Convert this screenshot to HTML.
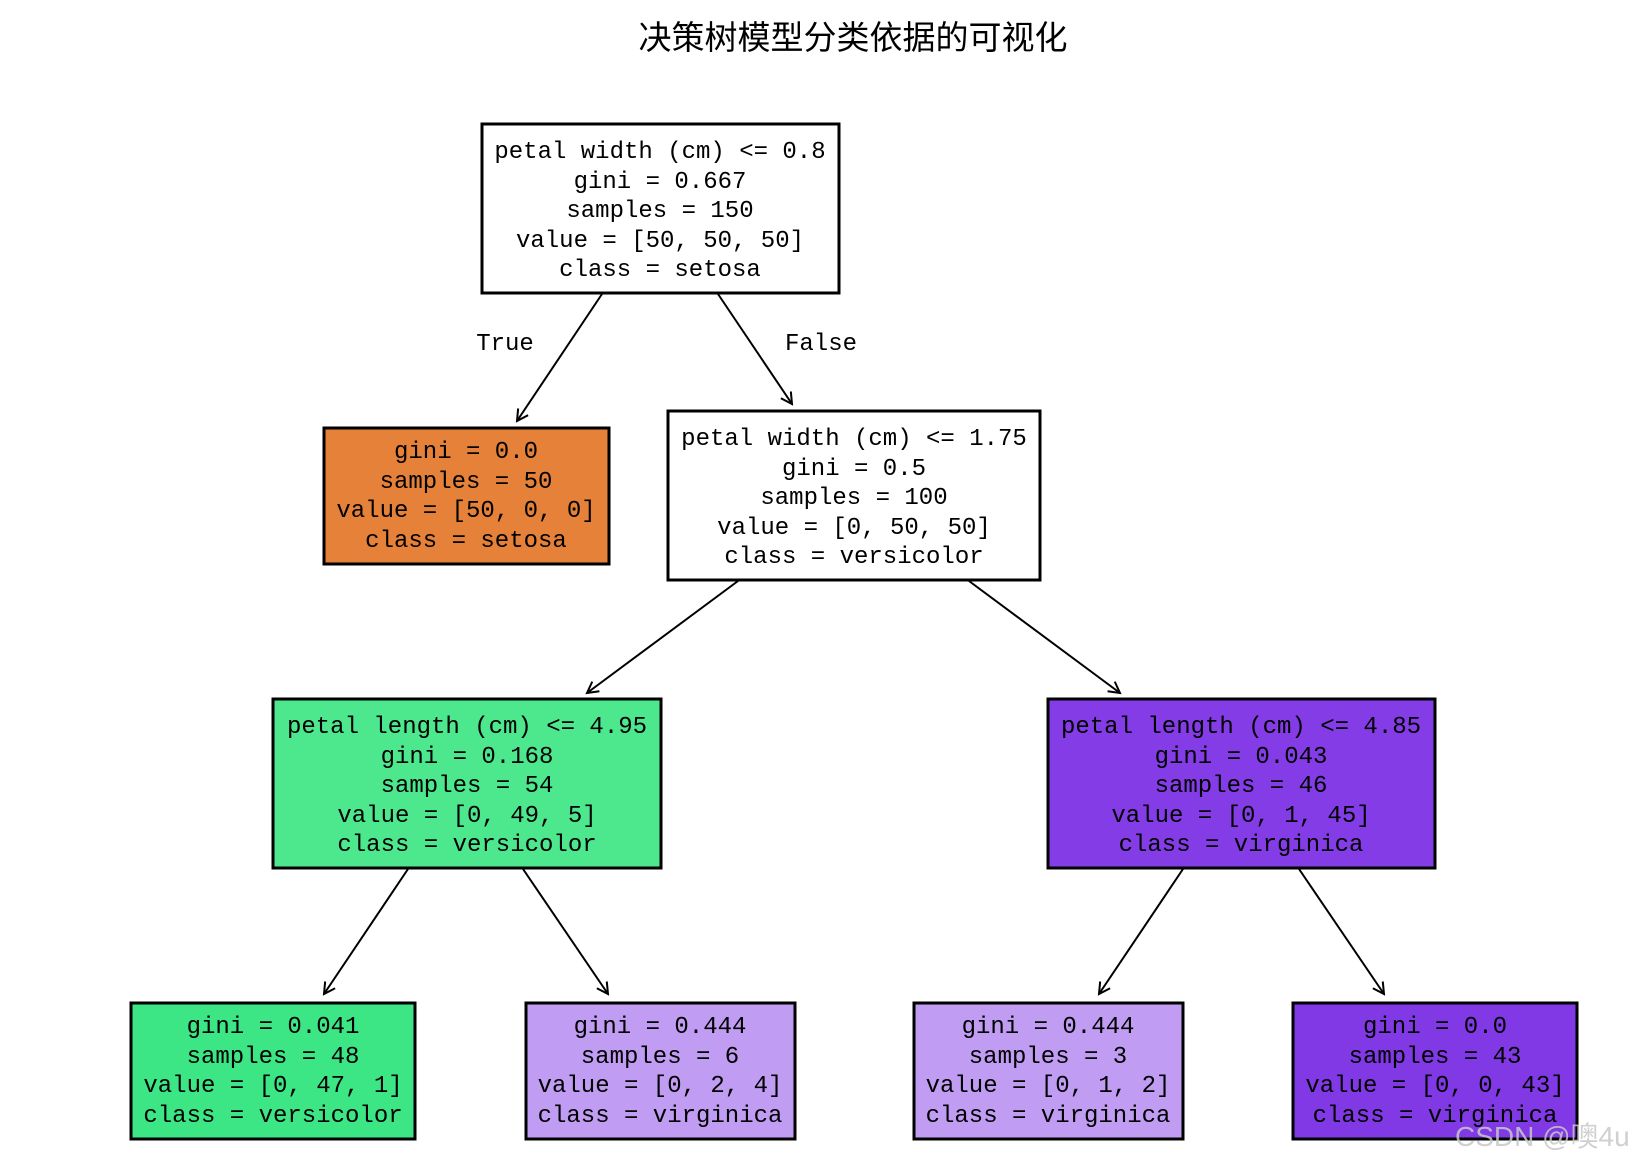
<!DOCTYPE html>
<html><head><meta charset="utf-8"><style>
html,body{margin:0;padding:0;background:#fff;}
svg{display:block;}
text{font-family:"Liberation Mono","Noto Sans CJK SC",monospace;font-size:24px;fill:#000;}
.t{font-family:"Liberation Sans","Noto Sans CJK SC",sans-serif;font-size:33px;}
</style></head><body>
<svg width="1645" height="1166" viewBox="0 0 1645 1166" xmlns="http://www.w3.org/2000/svg">
<defs><marker id="a" markerWidth="14" markerHeight="14" refX="12" refY="7" orient="auto" markerUnits="userSpaceOnUse"><path d="M1,1 L12,7 L1,13" fill="none" stroke="#000" stroke-width="2"/></marker></defs>
<text class="t" x="853" y="49" text-anchor="middle">决策树模型分类依据的可视化</text>
<g stroke="#000" stroke-width="2" marker-end="url(#a)">
<line x1="602" y1="294" x2="517" y2="421"/>
<line x1="718" y1="294" x2="792" y2="404"/>
<line x1="738" y1="581" x2="587" y2="693"/>
<line x1="969" y1="581" x2="1120" y2="693"/>
<line x1="408" y1="869" x2="324" y2="994"/>
<line x1="523" y1="869" x2="608" y2="994"/>
<line x1="1183" y1="869" x2="1099" y2="994"/>
<line x1="1299" y1="869" x2="1384" y2="994"/>
</g>
<text x="505" y="350" text-anchor="middle">True</text>
<text x="821" y="350" text-anchor="middle">False</text>
<g stroke="#000" stroke-width="3">
<rect x="482" y="124" width="357" height="169" fill="#fff"/>
<rect x="324" y="428" width="285" height="136" fill="#e58139"/>
<rect x="668" y="411" width="372" height="169" fill="#fff"/>
<rect x="273" y="699" width="388" height="169" fill="#4de88e"/>
<rect x="1048" y="699" width="387" height="169" fill="#843de6"/>
<rect x="131" y="1003" width="284" height="136" fill="#3de684"/>
<rect x="526" y="1003" width="269" height="136" fill="#c09cf2"/>
<rect x="914" y="1003" width="269" height="136" fill="#c09cf2"/>
<rect x="1293" y="1003" width="284" height="136" fill="#8139e5"/>
</g>
<g text-anchor="middle">
<text x="660" y="158">petal width (cm) &lt;= 0.8</text><text x="660" y="188">gini = 0.667</text><text x="660" y="217">samples = 150</text><text x="660" y="247">value = [50, 50, 50]</text><text x="660" y="276">class = setosa</text>
<text x="466" y="458">gini = 0.0</text><text x="466" y="488">samples = 50</text><text x="466" y="517">value = [50, 0, 0]</text><text x="466" y="547">class = setosa</text>
<text x="854" y="445">petal width (cm) &lt;= 1.75</text><text x="854" y="475">gini = 0.5</text><text x="854" y="504">samples = 100</text><text x="854" y="534">value = [0, 50, 50]</text><text x="854" y="563">class = versicolor</text>
<text x="467" y="733">petal length (cm) &lt;= 4.95</text><text x="467" y="763">gini = 0.168</text><text x="467" y="792">samples = 54</text><text x="467" y="822">value = [0, 49, 5]</text><text x="467" y="851">class = versicolor</text>
<text x="1241" y="733">petal length (cm) &lt;= 4.85</text><text x="1241" y="763">gini = 0.043</text><text x="1241" y="792">samples = 46</text><text x="1241" y="822">value = [0, 1, 45]</text><text x="1241" y="851">class = virginica</text>
<text x="273" y="1033">gini = 0.041</text><text x="273" y="1063">samples = 48</text><text x="273" y="1092">value = [0, 47, 1]</text><text x="273" y="1122">class = versicolor</text>
<text x="660" y="1033">gini = 0.444</text><text x="660" y="1063">samples = 6</text><text x="660" y="1092">value = [0, 2, 4]</text><text x="660" y="1122">class = virginica</text>
<text x="1048" y="1033">gini = 0.444</text><text x="1048" y="1063">samples = 3</text><text x="1048" y="1092">value = [0, 1, 2]</text><text x="1048" y="1122">class = virginica</text>
<text x="1435" y="1033">gini = 0.0</text><text x="1435" y="1063">samples = 43</text><text x="1435" y="1092">value = [0, 0, 43]</text><text x="1435" y="1122">class = virginica</text>
</g>
<text x="1455" y="1146" style="font-family:'Liberation Sans','Noto Sans CJK SC',sans-serif;font-size:28px;fill:#c8c8c8;opacity:0.85">CSDN @噢4u</text>
</svg>
</body></html>
